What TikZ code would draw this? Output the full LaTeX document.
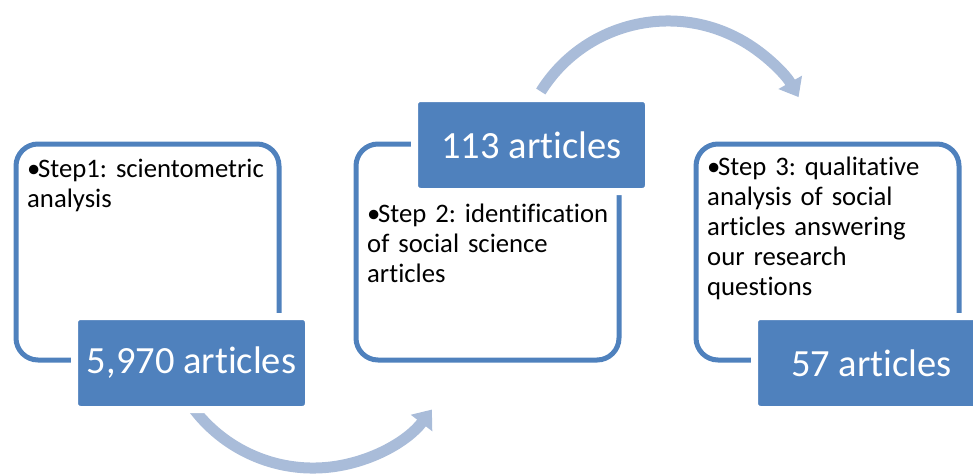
\documentclass[tikz,border=0pt]{standalone}
\usepackage{fontspec}
\setmainfont{Carlito}[Ligatures=NoCommon]
\usetikzlibrary{arrows.meta,backgrounds}
\definecolor{frameblue}{HTML}{4F81BD}
\definecolor{flowblue}{HTML}{A9BCD9}
\tikzset{
  stepframe/.style={draw=frameblue, line width=5pt, rounded corners=22pt,
    minimum width=263pt, minimum height=216pt, inner sep=0pt},
  countbox/.style={fill=frameblue, draw=white, line width=7pt, rounded corners=6pt,
    minimum width=234pt, minimum height=93pt, inner sep=0pt, text=white,
    font=\fontsize{38.5}{46}\selectfont},
  steptext/.style={anchor=base west, text width=250pt, align=left, inner sep=0pt,
    font=\fontsize{26.7}{30}\selectfont},
  flow/.style={draw=flowblue, line width=11pt, -{Triangle[width=26pt,length=17pt]}}
}
\newcommand{\stepitem}{\hangindent=11pt\hangafter=1\makebox[11pt][l]{\textbullet}}
\frenchspacing
\begin{document}
\begin{tikzpicture}[x=1pt,y=-1pt]
  \useasboundingbox (0,0) rectangle (973,475);
  % frames
  \foreach \x [count=\i from 1] in {147.5,487.5,827.5} {\node[stepframe] (f\i) at (\x,252) {};}
  % step texts
  \node[steptext] (s1) at (27,177) {\stepitem Step1: scientometric\newline analysis};
  \node[steptext] (s2) at (367,222) {\stepitem Step 2: identification\newline of social science\newline articles};
  \node[steptext] (s3) at (707,175) {\stepitem Step 3: qualitative\newline analysis of social\newline articles answering\newline our research\newline questions};
  % counts
  \node[countbox] (c1) at (191.5,363) {5,970 articles};
  \node[countbox] (c2) at (531.5,145) {113 articles};
  \node[countbox] (c3) at (871.5,363) {57 articles};
  % arrows
  \coordinate (a1) at (191.7,406.2);
  \coordinate (a2) at (540.8,91.5);
  \begin{scope}[on background layer]
    \draw[flow] (a1) arc[start angle=144, end angle=37.6, radius=150];
    \draw[flow] (a2) arc[start angle=-148, end angle=-29.5, radius=150];
  \end{scope}
\end{tikzpicture}
\end{document}
